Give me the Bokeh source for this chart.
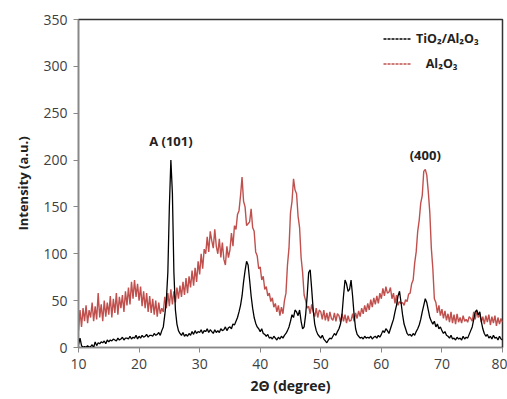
from bokeh.plotting import figure
from bokeh.models import Legend, LegendItem, Label, FixedTicker
from bokeh.embed import file_html
from bokeh.resources import INLINE

# 2-theta grid: 10.00 .. 80.00 step 0.25
start_deg = 10.0
step_deg = 0.25

tio2_al2o3 = [
    3, 10, 2, 0,
    1, 0, 2, 0,
    1, 3, 0, 6,
    2, 5, 4, 6,
    5, 7, 4, 8,
    6, 8, 7, 9,
    8, 7, 10, 8,
    9, 11, 8, 10,
    10, 9, 12, 9,
    11, 10, 13, 9,
    12, 10, 13, 11,
    12, 14, 11, 13,
    13, 12, 15, 13,
    14, 16, 13, 18,
    22, 35, 50, 80,
    150, 200, 165, 80,
    40, 25, 18, 15,
    13, 16, 12, 14,
    12, 15, 13, 17,
    14, 18, 15, 17,
    16, 19, 15, 18,
    17, 20, 16, 19,
    17, 15, 19, 16,
    18, 16, 20, 18,
    19, 22, 18, 21,
    22, 20, 25, 24,
    28, 32, 38, 45,
    55, 70, 82, 92,
    88, 72, 55, 42,
    32, 26, 22, 20,
    17, 20, 15, 14,
    12, 14, 10, 11,
    9, 12, 10, 8,
    11, 9, 12, 10,
    13, 15, 18, 22,
    28, 35, 32, 40,
    38, 34, 40, 28,
    20, 22, 35, 55,
    80, 83, 62, 40,
    25, 18, 14, 12,
    10, 13, 9, 7,
    5, 8, 10, 9,
    12, 15, 13, 17,
    20, 25, 35, 55,
    72, 68, 60, 62,
    72, 55, 35, 20,
    14, 12, 10, 11,
    9, 12, 10, 11,
    10, 12, 9, 11,
    12, 10, 13, 11,
    14, 18, 16, 20,
    18, 15, 20, 25,
    30, 38, 45, 55,
    60, 48, 35, 25,
    20, 15, 13, 14,
    12, 15, 13, 17,
    20, 24, 30, 38,
    45, 52, 48, 40,
    32, 28, 25, 28,
    22, 25, 20, 22,
    18, 15, 17, 13,
    12, 10, 13, 9,
    10, 8, 11, 9,
    10, 8, 12, 9,
    11, 10, 14, 18,
    22, 30, 38, 40,
    35, 38, 28, 20,
    15, 12, 14, 10,
    12, 9, 13, 10,
    11, 8, 12, 9,
    8,
]

al2o3 = [
    18, 40, 22, 42,
    28, 45, 26, 40,
    32, 48, 28, 44,
    30, 58, 32, 46,
    28, 50, 33, 48,
    35, 55, 32, 52,
    37, 58, 35, 54,
    42, 56, 38, 60,
    45, 64, 46, 70,
    52, 72, 54, 68,
    50, 65, 44, 60,
    42, 58, 38, 55,
    37, 52, 35, 50,
    33, 48, 36, 42,
    38, 54, 42, 58,
    44, 62, 46, 60,
    48, 64, 52, 66,
    54, 70, 56, 74,
    58, 76, 64, 82,
    66, 85, 70, 92,
    78, 100, 84, 105,
    100, 118, 102, 124,
    114, 106, 126, 108,
    100, 116, 96, 112,
    94, 88, 108, 96,
    104, 122, 108, 130,
    126, 142, 146, 162,
    182, 156, 150, 130,
    132, 134, 148, 128,
    124, 102, 98, 84,
    86, 72, 76, 62,
    65, 55, 58, 49,
    53, 43, 47, 38,
    45, 34, 43, 36,
    50, 58, 88, 106,
    144, 156, 180, 168,
    164, 140, 128, 96,
    80, 56, 50, 42,
    44, 36, 46, 38,
    33, 42, 32, 40,
    38, 30, 40, 29,
    37, 28, 38, 31,
    29, 37, 28, 36,
    34, 27, 36, 28,
    35, 26, 34, 28,
    29, 36, 28, 37,
    31, 39, 33, 42,
    36, 45, 38, 47,
    40, 51, 43, 53,
    46, 55, 47, 58,
    52, 63, 55, 65,
    58, 59, 64, 52,
    58, 47, 56, 45,
    49, 47, 48, 45,
    51, 49, 57, 58,
    68, 72, 90, 102,
    124, 136, 154, 162,
    188, 190, 184, 166,
    144, 106, 84, 52,
    48, 37, 45, 34,
    41, 31, 39, 29,
    36, 27, 38, 26,
    35, 25, 36, 27,
    32, 26, 34, 28,
    30, 27, 33, 31,
    28, 38, 30, 39,
    32, 36, 27, 33,
    25, 34, 27, 35,
    24, 33, 26, 34,
    23, 32, 25, 31,
    27,
]

two_theta = [start_deg + i * step_deg for i in range(len(tio2_al2o3))]

x_ticks = [10, 20, 30, 40, 50, 60, 70, 80]
y_ticks = [0, 50, 100, 150, 200, 250, 300, 350]

series_labels = ["TiO\u2082/Al\u2082O\u2083", "\u00a0\u00a0\u00a0Al\u2082O\u2083"]
peak_labels = ["A (101)", "(400)"]

FONT = "Open Sans"
RED = "#C0504D"

p = figure(width=507, height=399, output_backend="svg", toolbar_location=None,
           x_range=(10, 80), y_range=(0, 350),
           min_border_left=78, min_border_right=5, min_border_top=19, min_border_bottom=52)
p.grid.visible = False
p.outline_line_color = "#333333"
p.outline_line_width = 1.5

red_r = p.line(two_theta, al2o3, line_color=RED, line_width=1.4)
blk_r = p.line(two_theta, tio2_al2o3, line_color="black", line_width=1.3)

# dashed legend proxies (kept outside the visible range)
leg_blk = p.line([-100, -99], [-100, -100], line_color="black", line_width=1.3, line_dash="3 1")
leg_red = p.line([-100, -99], [-100, -100], line_color=RED, line_width=1.3, line_dash="3 1")

legend = Legend(items=[LegendItem(label=series_labels[0], renderers=[leg_blk]),
                       LegendItem(label=series_labels[1], renderers=[leg_red])],
                location=(298, 268), border_line_alpha=0, background_fill_alpha=0,
                label_text_font=FONT, label_text_font_size="12.5px", label_text_color="#222222",
                label_text_font_style="bold",
                glyph_width=28, glyph_height=15, label_height=15, label_standoff=5,
                spacing=8, padding=7, margin=0)
p.add_layout(legend)

for ax in (p.xaxis, p.yaxis):
    ax.axis_line_color = "#888888"
    ax.axis_line_width = 1.2
    ax.major_tick_line_color = "#888888"
    ax.major_tick_in = 0
    ax.major_tick_out = 5
    ax.minor_tick_line_color = None
    ax.major_label_text_font = FONT
    ax.major_label_text_font_size = "14px"
    ax.major_label_text_color = "#404040"
    ax.axis_label_text_font = FONT
    ax.axis_label_text_font_style = "bold"
    ax.axis_label_text_color = "#222222"

p.xaxis.ticker = FixedTicker(ticks=x_ticks)
p.yaxis.ticker = FixedTicker(ticks=y_ticks)
p.xaxis.axis_label = "2\u0398 (degree)"
p.yaxis.axis_label = "Intensity (a.u.)"
p.xaxis.axis_label_text_font_size = "14px"
p.yaxis.axis_label_text_font_size = "13px"
p.xaxis.major_label_standoff = 6
p.yaxis.major_label_standoff = 6
p.xaxis.axis_label_standoff = 4
p.yaxis.axis_label_standoff = 8

# peak annotations
i1 = tio2_al2o3.index(max(tio2_al2o3))
i2 = al2o3.index(max(al2o3))
for lbl, xi, yi, dy in [(peak_labels[0], two_theta[i1], tio2_al2o3[i1], 20),
                        (peak_labels[1], two_theta[i2], al2o3[i2], 15)]:
    p.add_layout(Label(x=xi, y=yi + dy, text=lbl, text_align="center", text_baseline="middle",
                       text_font=FONT, text_font_size="13px", text_font_style="bold",
                       text_color="#222222"))

open("out.html", "w").write(file_html(p, INLINE))
